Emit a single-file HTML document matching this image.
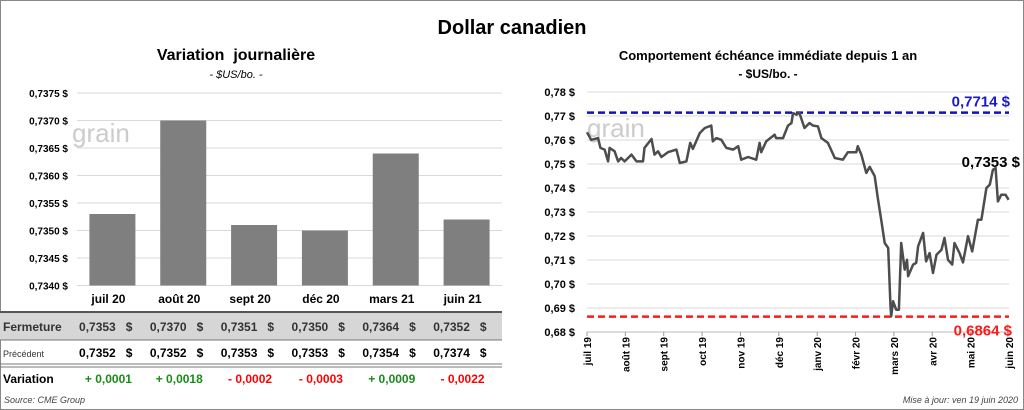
<!DOCTYPE html>
<html><head><meta charset="utf-8">
<style>
body{margin:0;background:#fff;}
#root{position:relative;width:1024px;height:410px;overflow:hidden;font-family:"Liberation Sans",sans-serif;}
svg text{font-family:"Liberation Sans",sans-serif;white-space:pre;}
</style></head>
<body>
<div id="root">
<svg id="svg" width="1024" height="410" viewBox="0 0 1024 410">
<rect x="0.5" y="0.5" width="1023" height="409" fill="#fff" stroke="#888"/>
<text x="512" y="34" text-anchor="middle" font-size="20" font-weight="bold">Dollar canadien</text>
<text x="236" y="60" text-anchor="middle" font-size="16" font-weight="bold">Variation  journalière</text>
<text x="236" y="78" text-anchor="middle" font-size="11" font-style="italic">- $US/bo. -</text>
<text x="768" y="60" text-anchor="middle" font-size="13" font-weight="bold">Comportement échéance immédiate depuis 1 an</text>
<text x="768" y="78" text-anchor="middle" font-size="12" font-weight="bold">- $US/bo. -</text>
<g id="left"></g>
<g id="table"></g>
<g id="right"></g>
<text x="4" y="403" font-size="9" font-style="italic" fill="#444">Source: CME Group</text>
<text x="1018" y="403" text-anchor="end" font-size="9" font-style="italic" fill="#444">Mise à jour: ven 19 juin 2020</text>
</svg>
</div>
<script>
const categories=["juil 20","août 20","sept 20","déc 20","mars 21","juin 21"];
const closeVals=[0.7353,0.7370,0.7351,0.7350,0.7364,0.7352];
const prevVals=[0.7352,0.7352,0.7353,0.7353,0.7354,0.7374];
const changeVals=[0.0001,0.0018,-0.0002,-0.0003,0.0009,-0.0022];
const leftTicks=[0.7340,0.7345,0.7350,0.7355,0.7360,0.7365,0.7370,0.7375];
const monthLabels=["juil 19","août 19","sept 19","oct 19","nov 19","déc 19","janv 20","févr 20","mars 20","avr 20","mai 20","juin 20"];
const rightTicks=[0.68,0.69,0.70,0.71,0.72,0.73,0.74,0.75,0.76,0.77,0.78];
const lineMonths=[0,.11,.29,.35,.46,.55,.59,.72,.81,.89,.98,1.16,1.29,1.46,1.50,1.68,1.76,1.85,1.94,2.11,2.33,2.42,2.59,2.69,2.76,2.94,3.07,3.24,3.28,3.37,3.50,3.63,3.81,3.94,4.02,4.20,4.41,4.50,4.54,4.67,4.89,4.93,5.11,5.24,5.33,5.37,5.46,5.53,5.67,5.80,5.89,6.02,6.11,6.28,6.46,6.67,6.80,7.02,7.06,7.15,7.28,7.37,7.50,7.58,7.67,7.76,7.85,7.91,7.93,7.98,8.06,8.13,8.19,8.28,8.34,8.37,8.50,8.58,8.63,8.76,8.84,8.93,9.02,9.11,9.24,9.32,9.41,9.52,9.58,9.71,9.80,9.93,10.04,10.19,10.28,10.41,10.50,10.58,10.65,10.71,10.80,10.91,10.99];
const lineVals=[.7632,.7601,.7608,.7567,.7560,.7511,.7567,.7553,.7511,.7525,.7511,.7539,.7511,.7511,.7567,.7604,.7539,.7553,.7529,.7549,.7560,.7504,.7511,.7588,.7563,.7629,.7650,.7660,.7594,.7608,.7601,.7567,.7560,.7574,.7518,.7529,.7518,.7588,.7549,.7594,.7622,.7608,.7608,.7660,.7671,.7712,.7706,.7715,.7650,.7671,.7660,.7657,.7608,.7588,.7525,.7518,.7549,.7549,.7574,.7539,.7463,.7488,.7449,.7358,.7268,.7171,.7150,.6907,.6865,.6928,.6893,.6893,.7171,.7060,.7101,.7032,.7081,.7088,.7157,.7213,.7094,.7129,.7046,.7122,.7143,.7192,.7101,.7081,.7171,.7129,.7090,.7199,.7136,.7268,.7268,.7400,.7414,.7476,.7483,.7344,.7372,.7372,.7351];
const highVal=0.7714, lowVal=0.6864, lastVal=0.7353;

const NS="http://www.w3.org/2000/svg";
function mk(tag,attrs,parent,txt){const e=document.createElementNS(NS,tag);for(const k in attrs)e.setAttribute(k,attrs[k]);if(txt!==undefined)e.textContent=txt;parent.appendChild(e);return e;}
const fmt=(v,d)=>v.toFixed(d).replace('.',',');

// Left bar chart
const L=document.getElementById('left');
const lx0=77,lx1=502,ly0=285.5,ly1=93;
const ly=v=>ly0-(v-0.7340)/(0.7375-0.7340)*(ly0-ly1);
const band=(lx1-lx0)/categories.length;
const lcx=i=>lx0+band*(i+0.5);
leftTicks.forEach(t=>{
  const g=mk('line',{x1:lx0,x2:lx1,y1:ly(t),y2:ly(t),stroke:'#d9d9d9'},L);
  
  
  const tx=mk('text',{x:68,y:ly(t)+4,'text-anchor':'end','font-size':10,'font-weight':'bold'},L,fmt(t,4)+' $');
  
  
});
const wm=mk('text',{x:72,y:142,'font-size':26,fill:'#ccc'},L,'grain');


closeVals.forEach((v,i)=>{
  const b=mk('rect',{x:lcx(i)-23,y:ly(v),width:46,height:ly0-ly(v),fill:'#7f7f7f'},L);
  
  
});

// Table
const T=document.getElementById('table');
const r1=mk('rect',{x:0,y:313,width:502,height:27,fill:'#d6d6d6'},T);


[[312,'#555',2],[340,'#777',1],[364,'#777',1],[367,'#777',1]].forEach(a=>{
  const l=mk('line',{x1:0,x2:502,y1:a[0],y2:a[0],stroke:a[1],'stroke-width':a[2]},T);
  
  
});
const h1=mk('text',{x:3,y:331,'font-size':12,'font-weight':'bold',fill:'#333'},T,'Fermeture');

const h2=mk('text',{x:3,y:357,'font-size':9,fill:'#333'},T,'Précédent');

const h3=mk('text',{x:3,y:383,'font-size':12,'font-weight':'bold'},T,'Variation');

categories.forEach((c,i)=>{
  const cx=lcx(i)-4;
  const a=mk('text',{x:cx,y:303,'text-anchor':'middle','font-size':12,'font-weight':'bold'},T,c);
  
  const b=mk('text',{x:cx+24,y:331,'text-anchor':'end','font-size':12,'font-weight':'bold',fill:'#333'},T,fmt(closeVals[i],4)+'   $');
  
  const d=mk('text',{x:cx+24,y:357,'text-anchor':'end','font-size':12,'font-weight':'bold'},T,fmt(prevVals[i],4)+'   $');
  
  const diff=changeVals[i];
  const e=mk('text',{x:cx,y:383,'text-anchor':'middle','font-size':12,'font-weight':'bold',fill:diff>=0?'#1a8a1a':'#ff0000'},T,(diff>=0?'+ ':'- ')+fmt(Math.abs(diff),4));
  
});

// Right line chart
const R=document.getElementById('right');
const rx0=587,rx1=1009,ry0=332,ry1=92;
const ry=v=>ry0-(v-0.68)/(0.78-0.68)*(ry0-ry1);
const rx=m=>rx0+m/11*(rx1-rx0);
rightTicks.forEach(t=>{
  const g=mk('line',{x1:rx0,x2:rx1,y1:ry(t),y2:ry(t),stroke:'#d9d9d9'},R);
  
  
  const tx=mk('text',{x:575,y:ry(t)+4,'text-anchor':'end','font-size':11,'font-weight':'bold'},R,fmt(t,2)+' $');
  
  
});
const ax=mk('line',{x1:rx0,x2:rx1,y1:ry0,y2:ry0,stroke:'#bbb'},R);

monthLabels.forEach((m,i)=>{
  const x=rx(i);
  const tk=mk('line',{x1:x,x2:x,y1:ry0,y2:ry0+4,stroke:'#999'},R);
  
  const t=mk('text',{x:0,y:0,'font-size':10,'font-weight':'bold','text-anchor':'end',transform:`translate(${x+4},${ry0+5}) rotate(-90)`},R,m);
  
});
const wm2=mk('text',{x:587,y:137,'font-size':26,fill:'#ccc'},R,'grain');

const hl=mk('line',{x1:rx0,x2:rx1,y1:ry(highVal),y2:ry(highVal),stroke:'#1010c0','stroke-width':2.5,'stroke-dasharray':'7,4'},R);

const ll=mk('line',{x1:rx0,x2:rx1,y1:ry(lowVal),y2:ry(lowVal),stroke:'#ff1a1a','stroke-width':2.5,'stroke-dasharray':'7,4'},R);

const ht=mk('text',{x:1010,y:ry(highVal)-6,'text-anchor':'end','font-size':15,'font-weight':'bold',fill:'#1a1acc'},R,fmt(highVal,4)+' $');

const lt=mk('text',{x:1012,y:ry(lowVal)+19,'text-anchor':'end','font-size':15,'font-weight':'bold',fill:'#ff1a1a'},R,fmt(lowVal,4)+' $');

const pts=lineMonths.map((m,i)=>rx(m).toFixed(1)+','+ry(lineVals[i]).toFixed(1)).join(' ');
const pl=mk('polyline',{points:pts,fill:'none',stroke:'#4d4d4d','stroke-width':2.5,'stroke-linejoin':'round'},R);

const lst=mk('text',{x:1020,y:ry(0.7483)-1,'text-anchor':'end','font-size':15,'font-weight':'bold'},R,fmt(lastVal,4)+' $');

</script>
</body></html>
